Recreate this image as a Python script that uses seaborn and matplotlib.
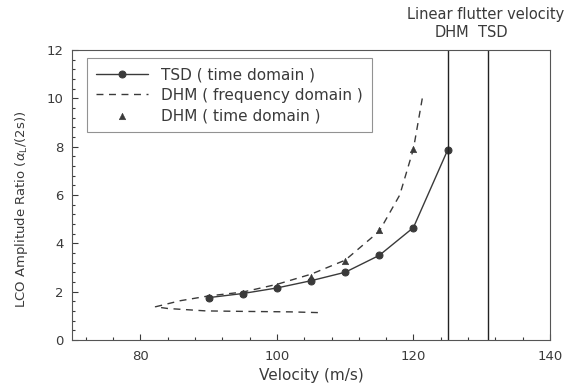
import numpy as np
import pandas as pd
import matplotlib
matplotlib.use('Agg')
import matplotlib.pyplot as plt
from matplotlib.ticker import MultipleLocator
import seaborn as sns

# TSD time domain
tsd_v = [90, 95, 100, 105, 110, 115, 120, 125]
tsd_r = [1.75, 1.92, 2.15, 2.45, 2.8, 3.5, 4.65, 7.85]
# DHM time domain (triangles)
dhm_t_v = [90, 95, 100, 105, 110, 115, 120]
dhm_t_r = [1.78, 1.95, 2.25, 2.62, 3.28, 4.55, 7.9]
# DHM frequency domain (dashed, turns back at ~82 m/s)
dhm_f_v = [106, 102, 95, 89.6, 84, 82.2, 85.8, 90, 95, 100, 105, 110, 115, 118, 120, 121.3]
dhm_f_r = [1.13, 1.16, 1.18, 1.2, 1.3, 1.37, 1.62, 1.82, 1.98, 2.3, 2.72, 3.3, 4.5, 6.0, 7.9, 10.0]
# linear flutter velocities
flutter_v = [125, 131]
flutter_lbl = ['DHM', 'TSD']

sns.set_style('ticks')
plt.rcParams['font.family'] = ['DejaVu Sans']
plt.rcParams['mathtext.fontset'] = 'dejavusans'

ink = '#3a3a3a'
fig = plt.figure(figsize=(5.64, 3.88), dpi=100)
ax = fig.add_axes([0.128, 0.124, 0.847, 0.747])

tsd = pd.DataFrame({'v': tsd_v, 'r': tsd_r})
dhm_f = pd.DataFrame({'v': dhm_f_v, 'r': dhm_f_r})
dhm_t = pd.DataFrame({'v': dhm_t_v, 'r': dhm_t_r})

sns.lineplot(data=tsd, x='v', y='r', ax=ax, color=ink, lw=1.0, marker='o',
             markersize=5, markeredgecolor=ink, sort=False, estimator=None,
             label='TSD ( time domain )')
sns.lineplot(data=dhm_f, x='v', y='r', ax=ax, color=ink, lw=1.0, ls=(0, (5, 4)),
             sort=False, estimator=None, label='DHM ( frequency domain )')
sns.scatterplot(data=dhm_t, x='v', y='r', ax=ax, color=ink, marker='^', s=22,
                edgecolor=ink, label='DHM ( time domain )', zorder=3)

for v in flutter_v:
    ax.axvline(v, color='#222222', lw=1.0)

ax.set_xlim(70, 140)
ax.set_ylim(0, 12)
ax.xaxis.set_major_locator(MultipleLocator(20))
ax.xaxis.set_minor_locator(MultipleLocator(4))
ax.yaxis.set_major_locator(MultipleLocator(2))
ax.yaxis.set_minor_locator(MultipleLocator(0.4))
ax.tick_params(which='both', direction='in', colors=ink, labelsize=9.5, width=0.8)
ax.tick_params(which='major', length=4, pad=7)
ax.tick_params(which='minor', length=2)
ax.tick_params(axis='y', which='major', pad=6)
for s in ax.spines.values():
    s.set_color('#555555')
    s.set_linewidth(0.8)

ax.set_xlabel('Velocity (m/s)', fontsize=11, color=ink, labelpad=4)
ax.set_ylabel(r'LCO Amplitude Ratio ($\alpha_{\rm L}$/(2s))', fontsize=9.5, color=ink)
ax.yaxis.set_label_coords(-0.088, 0.45)

ax.text(1.03, 1.097, 'Linear flutter velocity', transform=ax.transAxes,
        ha='right', va='bottom', fontsize=10.5, color=ink)
for v, lbl in zip(flutter_v, flutter_lbl):
    ax.text(v + 0.6, 12.4, lbl, ha='center', va='bottom', fontsize=10.5, color=ink)

leg = ax.legend(loc='upper left', bbox_to_anchor=(0.03, 0.972), borderaxespad=0,
                fontsize=11, frameon=True, fancybox=False, handlelength=3.4,
                borderpad=0.6, labelspacing=0.35, handletextpad=0.9)
leg.get_frame().set_edgecolor('#777777')
leg.get_frame().set_linewidth(0.8)
for t in leg.get_texts():
    t.set_color(ink)

fig.savefig('out.png', dpi=100)
